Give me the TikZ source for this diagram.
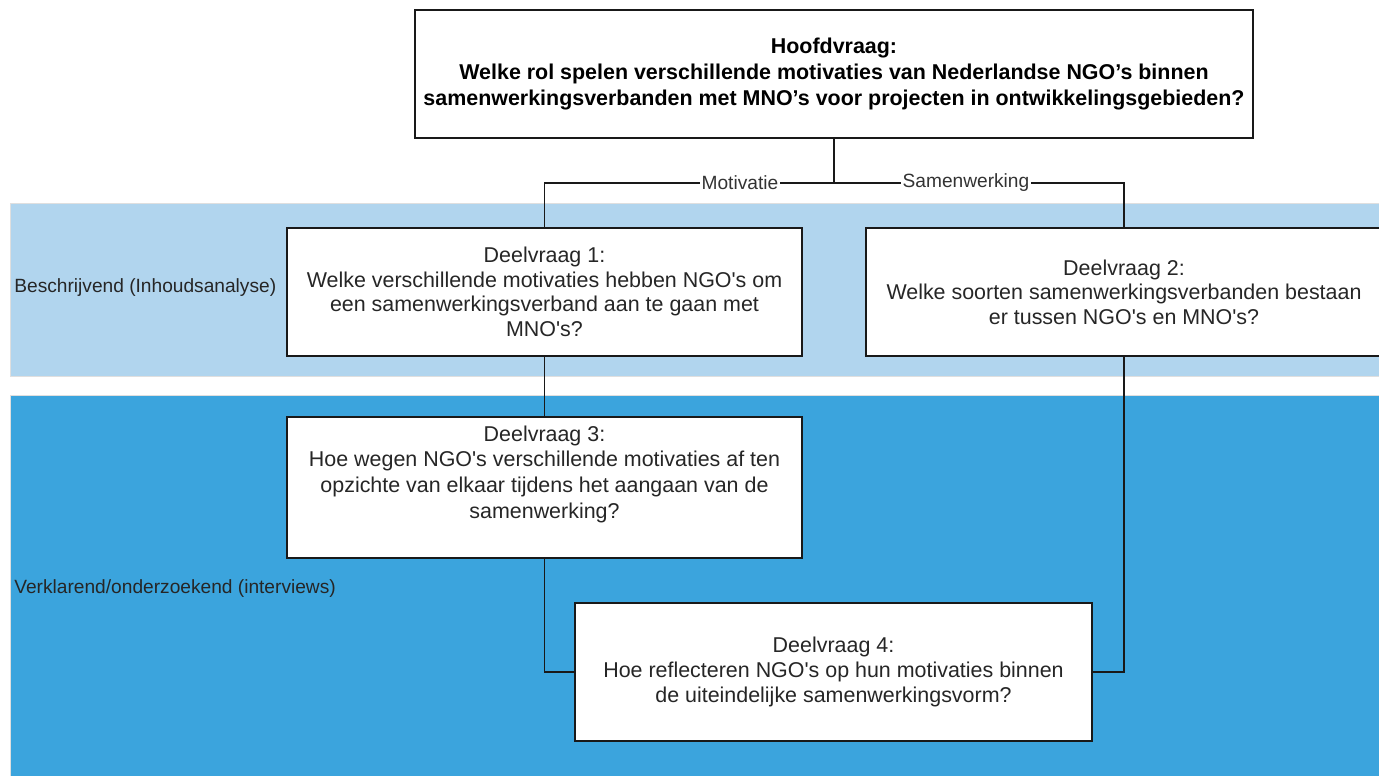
\documentclass[tikz,border=0pt]{standalone}
\usepackage{fontspec}
\setmainfont{Liberation Sans}
\usetikzlibrary{positioning, calc}
\usepackage{xcolor}
\definecolor{bandLight}{HTML}{B1D5EE}
\definecolor{bandDark}{HTML}{3BA4DD}
\newcommand{\aps}{\textquotesingle}
\tikzset{
    font=\fontsize{10.9}{14}\selectfont,
    % Bands
    band/.style={draw=gray!25, line width=0.4pt},
    bandLbl/.style={anchor=west, inner sep=0pt, text=black!85},
    % Boxes
    vraag/.style={rectangle, draw=black!90, line width=1.1pt, fill=white, align=center,
                  minimum width=10.3cm, minimum height=2.56cm, inner sep=2pt, text=black!85,
                  font=\fontsize{12.2}{14}\selectfont},
    hoofd/.style={vraag, minimum width=16.76cm, text=black,
                  font=\fontsize{12.2}{15}\selectfont\bfseries},
    % Flow & Labels
    flow/.style={line width=1.1pt, black!90},
    lbl/.style={fill=white, inner sep=1pt, text=black!80}
}

\begin{document}
\begin{tikzpicture}[x=0.02cm, y=-0.02cm]
\useasboundingbox (0,0) rectangle (1379,776);

% bands
\filldraw[band, fill=bandLight] (10,203) rectangle (1379,376);
\filldraw[band, fill=bandDark] (10,395) rectangle (1379,776);
\node[bandLbl] (lblBeschr) at (14,288) {Beschrijvend (Inhoudsanalyse)};
\node[bandLbl] (lblVerkl) at (14,589) {Verklarend/onderzoekend (interviews)};

% questions
\node[hoofd] (hoofd) at (834,74) {Hoofdvraag:\\Welke rol spelen verschillende motivaties van Nederlandse NGO’s binnen\\samenwerkingsverbanden met MNO’s voor projecten in ontwikkelingsgebieden?};
\node[vraag] (dv1) at (544.5,292) {Deelvraag 1:\\Welke verschillende motivaties hebben NGO\aps s om\\een samenwerkingsverband aan te gaan met\\MNO\aps s?};
\node[vraag, minimum width=10.32cm] (dv2) at (1124,292) {Deelvraag 2:\\Welke soorten samenwerkingsverbanden bestaan\\er tussen NGO\aps s en MNO\aps s?};
\node[vraag, minimum height=2.82cm, font=\fontsize{12.2}{14.6}\selectfont] (dv3) at (544.5,487.5) {Deelvraag 3:\\Hoe wegen NGO\aps s verschillende motivaties af ten\\opzichte van elkaar tijdens het aangaan van de\\samenwerking?\\[3pt]};
\node[vraag, minimum width=10.34cm, minimum height=2.76cm] (dv4) at (833.5,672) {Deelvraag 4:\\Hoe reflecteren NGO\aps s op hun motivaties binnen\\de uiteindelijke samenwerkingsvorm?};

% connectors
\coordinate (split) at (834,183);
\draw[flow] (hoofd.south) -- (split);
\draw[flow] (split) -- node[lbl, pos=0.325] {Motivatie} (split -| dv1.north) -- (dv1.north);
\draw[flow] (split) -- node[lbl, pos=0.455] {Samenwerking} (split -| dv2.north) -- (dv2.north);
\draw[flow] (dv1.south) -- (dv3.north);
\draw[flow] (dv3.south) |- (dv4.west);
\draw[flow] (dv2.south) |- (dv4.east);

\end{tikzpicture}
\end{document}
